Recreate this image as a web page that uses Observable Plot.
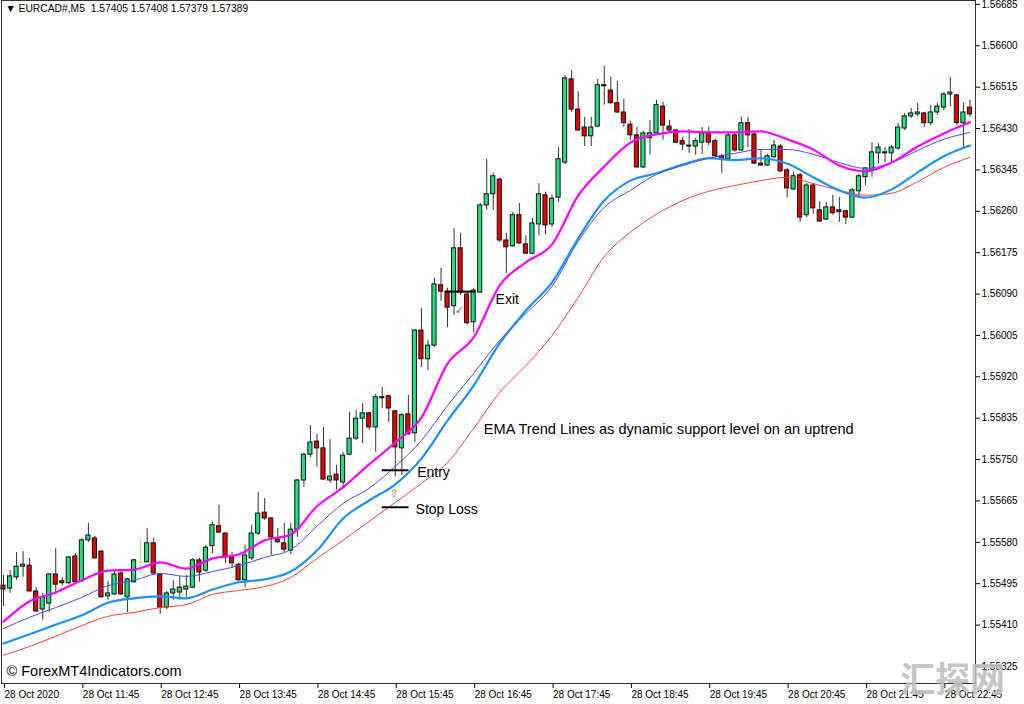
<!DOCTYPE html>
<html><head><meta charset="utf-8">
<script src="https://cdn.jsdelivr.net/npm/d3@7"></script>
<script src="https://cdn.jsdelivr.net/npm/@observablehq/plot@0.6"></script>
<style>html,body{margin:0;padding:0;background:#fff;overflow:hidden}svg{display:block}</style>
</head><body><div id="chart"></div>
<script>
// ---- Data: EURCAD M5, 28 Oct 2020, first candle 10:45 ----
const opens = [1.55491,1.55485,1.55508,1.55530,1.55532,1.55479,1.55442,1.55454,1.55514,1.55500,1.55496,1.55551,1.55500,1.55584,1.55588,1.55561,1.55469,1.55473,1.55516,1.55467,1.55498,1.55539,1.55539,1.55578,1.55514,1.55446,1.55475,1.55477,1.55483,1.55487,1.55543,1.55522,1.55572,1.55613,1.55598,1.55549,1.55534,1.55502,1.55547,1.55598,1.55641,1.55629,1.55586,1.55578,1.55563,1.55606,1.55707,1.55760,1.55787,1.55773,1.55707,1.55719,1.55703,1.55760,1.55793,1.55834,1.55845,1.55816,1.55878,1.55880,1.55849,1.55773,1.55843,1.55804,1.56015,1.55956,1.55984,1.56108,1.56095,1.56065,1.56184,1.56089,1.56032,1.56093,1.56272,1.56295,1.56325,1.56200,1.56188,1.56252,1.56192,1.56173,1.56233,1.56293,1.56233,1.56288,1.56360,1.56531,1.56469,1.56432,1.56414,1.56434,1.56519,1.56508,1.56482,1.56463,1.56438,1.56416,1.56350,1.56410,1.56420,1.56475,1.56434,1.56426,1.56404,1.56395,1.56393,1.56401,1.56420,1.56404,1.56373,1.56367,1.56416,1.56385,1.56441,1.56418,1.56358,1.56354,1.56371,1.56393,1.56344,1.56305,1.56334,1.56252,1.56313,1.56262,1.56243,1.56268,1.56262,1.56260,1.56247,1.56301,1.56330,1.56344,1.56379,1.56381,1.56379,1.56389,1.56430,1.56455,1.56459,1.56461,1.56441,1.56463,1.56473,1.56500,1.56498,1.56441,1.56473];
const highs = [1.55512,1.55522,1.55559,1.55561,1.55547,1.55487,1.55475,1.55516,1.55567,1.55508,1.55551,1.55557,1.55588,1.55619,1.55592,1.55563,1.55500,1.55522,1.55520,1.55506,1.55545,1.55586,1.55608,1.55588,1.55516,1.55479,1.55502,1.55510,1.55512,1.55547,1.55547,1.55574,1.55621,1.55656,1.55600,1.55559,1.55537,1.55574,1.55615,1.55682,1.55670,1.55631,1.55608,1.55619,1.55619,1.55709,1.55763,1.55820,1.55802,1.55816,1.55791,1.55738,1.55765,1.55847,1.55851,1.55865,1.55847,1.55884,1.55898,1.55882,1.55851,1.55845,1.55882,1.56017,1.56060,1.55995,1.56122,1.56143,1.56102,1.56225,1.56215,1.56093,1.56102,1.56276,1.56367,1.56338,1.56328,1.56215,1.56258,1.56276,1.56210,1.56245,1.56317,1.56299,1.56293,1.56391,1.56539,1.56549,1.56506,1.56453,1.56453,1.56531,1.56558,1.56535,1.56527,1.56490,1.56445,1.56432,1.56424,1.56447,1.56488,1.56484,1.56447,1.56428,1.56412,1.56428,1.56410,1.56432,1.56432,1.56408,1.56377,1.56420,1.56420,1.56453,1.56453,1.56420,1.56385,1.56377,1.56406,1.56397,1.56348,1.56340,1.56338,1.56317,1.56317,1.56280,1.56278,1.56293,1.56288,1.56262,1.56307,1.56336,1.56350,1.56401,1.56399,1.56391,1.56395,1.56441,1.56461,1.56471,1.56482,1.56463,1.56478,1.56482,1.56504,1.56535,1.56500,1.56482,1.56488];
const lows = [1.55448,1.55475,1.55502,1.55508,1.55478,1.55436,1.55420,1.55436,1.55477,1.55491,1.55493,1.55493,1.55498,1.55580,1.55546,1.55466,1.55461,1.55471,1.55471,1.55436,1.55496,1.55516,1.55537,1.55512,1.55432,1.55442,1.55461,1.55461,1.55465,1.55485,1.55498,1.55518,1.55557,1.55598,1.55537,1.55526,1.55500,1.55487,1.55543,1.55594,1.55625,1.55553,1.55578,1.55559,1.55555,1.55590,1.55693,1.55754,1.55734,1.55707,1.55701,1.55687,1.55691,1.55758,1.55789,1.55783,1.55810,1.55765,1.55855,1.55826,1.55715,1.55717,1.55800,1.55785,1.55939,1.55933,1.55980,1.56075,1.56021,1.56046,1.56087,1.56026,1.56011,1.56091,1.56262,1.56262,1.56196,1.56132,1.56186,1.56192,1.56172,1.56171,1.56210,1.56212,1.56227,1.56278,1.56356,1.56463,1.56424,1.56393,1.56393,1.56432,1.56478,1.56480,1.56461,1.56432,1.56406,1.56349,1.56348,1.56375,1.56416,1.56406,1.56420,1.56399,1.56385,1.56379,1.56375,1.56377,1.56395,1.56371,1.56338,1.56365,1.56381,1.56383,1.56391,1.56356,1.56353,1.56352,1.56369,1.56340,1.56288,1.56303,1.56237,1.56247,1.56254,1.56237,1.56241,1.56252,1.56237,1.56233,1.56245,1.56288,1.56313,1.56330,1.56358,1.56360,1.56358,1.56385,1.56426,1.56451,1.56455,1.56432,1.56436,1.56457,1.56467,1.56475,1.56436,1.56391,1.56453];
const closes = [1.55483,1.55510,1.55530,1.55534,1.55479,1.55438,1.55467,1.55514,1.55493,1.55496,1.55549,1.55498,1.55584,1.55594,1.55547,1.55467,1.55475,1.55514,1.55473,1.55504,1.55543,1.55539,1.55578,1.55516,1.55446,1.55475,1.55483,1.55487,1.55489,1.55543,1.55518,1.55569,1.55615,1.55600,1.55549,1.55537,1.55502,1.55553,1.55598,1.55639,1.55629,1.55590,1.55580,1.55565,1.55606,1.55707,1.55760,1.55785,1.55773,1.55709,1.55715,1.55707,1.55758,1.55793,1.55834,1.55845,1.55816,1.55878,1.55876,1.55855,1.55775,1.55841,1.55802,1.56015,1.55956,1.55984,1.56110,1.56095,1.56062,1.56184,1.56093,1.56030,1.56097,1.56272,1.56295,1.56332,1.56200,1.56186,1.56252,1.56194,1.56173,1.56235,1.56295,1.56231,1.56286,1.56367,1.56533,1.56469,1.56426,1.56414,1.56432,1.56519,1.56517,1.56482,1.56463,1.56441,1.56416,1.56350,1.56420,1.56420,1.56478,1.56436,1.56426,1.56401,1.56397,1.56393,1.56404,1.56420,1.56401,1.56373,1.56367,1.56416,1.56385,1.56441,1.56416,1.56358,1.56354,1.56373,1.56395,1.56342,1.56307,1.56332,1.56247,1.56313,1.56266,1.56239,1.56268,1.56256,1.56258,1.56247,1.56303,1.56332,1.56348,1.56381,1.56391,1.56379,1.56391,1.56432,1.56455,1.56461,1.56463,1.56441,1.56463,1.56475,1.56500,1.56504,1.56441,1.56463,1.56459];

// EMA lines, read every 4th candle
const emaIdx = [0,4,8,12,16,20,24,28,32,36,40,44,48,52,56,60,64,68,72,76,80,84,88,92,96,100,104,108,112,116,120,124,128,132,136,140,144,148];
const emaMagenta = [1.55417,1.55459,1.55477,1.55502,1.55522,1.55524,1.55539,1.55526,1.55547,1.55555,1.55584,1.55596,1.55654,1.55693,1.55740,1.55785,1.55836,1.55947,1.56001,1.56108,1.56155,1.56192,1.56292,1.56352,1.56401,1.56418,1.56424,1.56422,1.56422,1.56424,1.56408,1.56387,1.56354,1.56342,1.56360,1.56393,1.56420,1.56443];
const emaBlueThin = [1.55403,1.55426,1.55446,1.55467,1.55491,1.55502,1.55516,1.55510,1.55520,1.55532,1.55549,1.55565,1.55613,1.55660,1.55691,1.55736,1.55789,1.55861,1.55927,1.55995,1.56050,1.56106,1.56198,1.56268,1.56303,1.56336,1.56354,1.56369,1.56379,1.56387,1.56387,1.56377,1.56360,1.56348,1.56360,1.56385,1.56408,1.56422];
const emaBlueThick = [1.55372,1.55391,1.55411,1.55430,1.55456,1.55465,1.55469,1.55465,1.55483,1.55498,1.55504,1.55520,1.55563,1.55629,1.55666,1.55699,1.55752,1.55830,1.55902,1.55989,1.56056,1.56114,1.56204,1.56282,1.56323,1.56338,1.56356,1.56369,1.56365,1.56369,1.56358,1.56330,1.56303,1.56288,1.56305,1.56340,1.56373,1.56395];
const emaRed = [1.55348,1.55366,1.55387,1.55409,1.55428,1.55436,1.55446,1.55452,1.55473,1.55481,1.55489,1.55508,1.55547,1.55584,1.55623,1.55662,1.55701,1.55744,1.55814,1.55888,1.55943,1.56005,1.56083,1.56167,1.56217,1.56254,1.56282,1.56301,1.56313,1.56323,1.56330,1.56317,1.56303,1.56293,1.56297,1.56321,1.56350,1.56371];

// Axis ticks
const yTicks = [1.56685,1.56600,1.56515,1.56430,1.56345,1.56260,1.56175,1.56090,1.56005,1.55920,1.55835,1.55750,1.55665,1.55580,1.55495,1.55410,1.55325];
const xTickIdx = [0,12,24,36,48,60,72,84,96,108,120,132,144];

// Trade levels and notes (candle index, price)
const levelFrom = [67.7, 58.0, 58.0];
const levelTo = [72.3, 62.1, 62.1];
const levelPrice = [1.56095, 1.55728, 1.55652];
const noteText = ["Exit", "Entry", "Stop Loss", "EMA Trend Lines as dynamic support level on an uptrend"];
const noteIdx = [75.35, 63.35, 63.1, 73.55];
const notePrice = [1.56079, 1.55724, 1.55648, 1.55812];
const arrowIdx = [59.8], arrowPrice = [1.55680];
const checkIdx = [69.8], checkPrice = [1.56056];
const header = "\u25BC EURCAD#,M5  1.57405 1.57408 1.57379 1.57389";

// ---- Build ----
const t0 = Date.UTC(2020, 9, 28, 10, 45);
const step = 5 * 60 * 1000;
const at = i => new Date(t0 + i * step);
const half = 95 * 1000;
const candles = opens.map((o, i) => ({date: at(i), open: o, high: highs[i], low: lows[i], close: closes[i]}));
const bodies = candles.filter(d => d.open !== d.close);
const flats = candles.filter(d => d.open === d.close);
const series = arr => emaIdx.map((k, j) => ({date: at(k), v: arr[j]}));
const levels = levelPrice.map((p, j) => ({x1: at(levelFrom[j]), x2: at(levelTo[j]), y: p}));
const notes = noteText.map((t, j) => ({date: at(noteIdx[j]), y: notePrice[j], text: t, size: t.length > 20 ? 14.6 : 14}));
const pad = n => String(n).padStart(2, "0");

const chart = Plot.plot({
  width: 1024, height: 704,
  marginLeft: 1, marginRight: 49, marginTop: 0, marginBottom: 21,
  style: {fontFamily: "'Liberation Sans', Arial, sans-serif", fontSize: "10px", background: "#fff", color: "#000"},
  x: {type: "utc", domain: [at(-0.306), at(148.85)]},
  y: {domain: [1.55290, 1.56693]},
  marks: [
    Plot.ruleX(candles, {x: "date", y1: "low", y2: "high", stroke: d => d.open === d.close ? "#7dff7d" : "#333", strokeWidth: 1}),
    Plot.rect(bodies, {x1: d => new Date(+d.date - half), x2: d => new Date(+d.date + half), y1: "open", y2: "close",
      fill: d => d.close > d.open ? "#1fe07f" : "#e60000", stroke: "#111", strokeWidth: 1}),
    Plot.ruleY(flats, {y: "open", x1: d => new Date(+d.date - half), x2: d => new Date(+d.date + half), stroke: "#7dff7d"}),
    Plot.line(series(emaRed), {x: "date", y: "v", stroke: "#ff4040", strokeWidth: 1, curve: "monotone-x"}),
    Plot.line(series(emaBlueThick), {x: "date", y: "v", stroke: "#1e90ff", strokeWidth: 2.2, curve: "monotone-x"}),
    Plot.line(series(emaBlueThin), {x: "date", y: "v", stroke: "#4b4bff", strokeWidth: 1, curve: "monotone-x"}),
    Plot.line(series(emaMagenta), {x: "date", y: "v", stroke: "#ff00ff", strokeWidth: 2.2, curve: "monotone-x"}),
    Plot.ruleY(levels, {y: "y", x1: "x1", x2: "x2", stroke: "#000", strokeWidth: 2}),
    Plot.text(notes, {x: "date", y: "y", text: "text", textAnchor: "start", fontSize: d => d.size, fill: "#000"}),
    Plot.text(arrowIdx.map((k, j) => ({date: at(k), y: arrowPrice[j]})), {x: "date", y: "y", text: () => "\u21E7", fontSize: 11, fill: "#b07020", fontFamily: "DejaVu Sans"}),
    Plot.text(checkIdx.map((k, j) => ({date: at(k), y: checkPrice[j]})), {x: "date", y: "y", text: () => "\u2713", fontSize: 11, fill: "#666", fontFamily: "DejaVu Sans"}),
    Plot.text([header], {frameAnchor: "top-left", dx: 4, dy: 8, lineAnchor: "middle", textAnchor: "start", fontSize: 10.3, fill: "#000"}),
    Plot.text(["\u00A9 ForexMT4Indicators.com"], {frameAnchor: "bottom-left", dx: 5, dy: -12, lineAnchor: "middle", textAnchor: "start", fontSize: 14.5, fill: "#000"}),
    Plot.axisY({anchor: "right", ticks: yTicks, tickFormat: d3.format(".5f"), tickSize: 4, tickPadding: 2, fontSize: 10, label: null}),
    Plot.axisX({anchor: "bottom", ticks: xTickIdx.map(at), tickSize: 5, tickPadding: 2, textAnchor: "start", dx: 1, fontSize: 10, label: null,
      tickFormat: d => +d === t0 ? "28 Oct 2020" : `28 Oct ${pad(d.getUTCHours())}:${pad(d.getUTCMinutes())}`}),
    Plot.frame({stroke: "#333"}),
    Plot.text(["\u6C47\u63A2\u7F51"], {frameAnchor: "bottom-right", dx: -23, dy: -3, lineAnchor: "middle", textAnchor: "middle", fontSize: 35, fontWeight: "bold", fill: "#bdbdbd", fillOpacity: 0.9, fontFamily: "'Noto Sans CJK SC'"})
  ]
});
document.getElementById("chart").appendChild(chart);
</script></body></html>
